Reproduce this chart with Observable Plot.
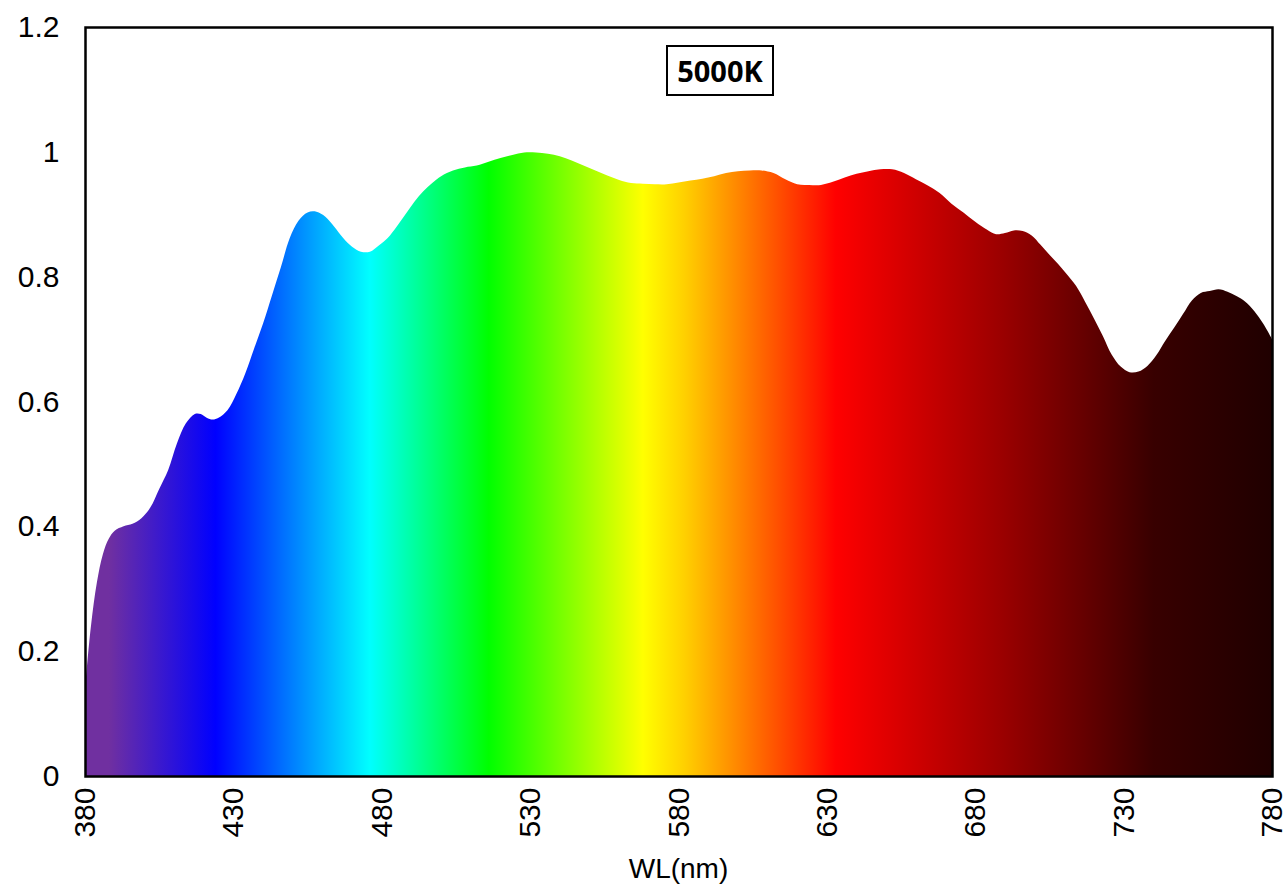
<!DOCTYPE html>
<html>
<head>
<meta charset="utf-8">
<script src="https://cdn.jsdelivr.net/npm/d3@7"></script>
<script src="https://cdn.jsdelivr.net/npm/@observablehq/plot@0.6"></script>
<style>
  body { margin: 0; background: #fff; }
  #wrap { position: relative; width: 1287px; height: 888px; }
  #badge {
    position: absolute; left: 666px; top: 45px; width: 108px; height: 51px;
    box-sizing: border-box; border: 2px solid #000; background: #fff;
    font: bold 29px "Noto Sans", sans-serif; color: #000;
    display: flex; align-items: center; justify-content: center;
  }
</style>
</head>
<body>
<div id="wrap"><div id="badge">5000K</div></div>
<script>
// Wavelength (nm) and relative spectral power
const wavelengths = [380,382,384,386,388,390,393,396,399,402,405,408,411,414,417,419,421,423,425,428,431,434,437,440,443,446,449,452,455,458,461,464,467,470,473,476,479,482,485,488,491,494,497,500,504,508,512,516,520,524,528,532,536,540,544,548,552,556,560,564,568,572,576,580,584,588,592,596,600,604,608,612,616,620,624,628,632,636,640,644,648,652,656,660,664,668,672,676,680,684,687,690,693,696,699,702,705,708,711,714,717,720,723,726,729,732,735,738,741,744,747,750,753,756,759,762,765,768,771,774,777,780];
const intensity = [0.14,0.24,0.31,0.355,0.38,0.393,0.400,0.404,0.413,0.430,0.460,0.490,0.533,0.565,0.580,0.580,0.574,0.571,0.574,0.586,0.612,0.645,0.685,0.725,0.770,0.815,0.862,0.890,0.903,0.904,0.896,0.880,0.862,0.848,0.840,0.840,0.850,0.862,0.880,0.900,0.920,0.937,0.950,0.961,0.970,0.975,0.978,0.984,0.990,0.995,0.999,0.999,0.997,0.993,0.986,0.978,0.970,0.962,0.955,0.950,0.949,0.948,0.948,0.951,0.954,0.957,0.961,0.966,0.969,0.970,0.970,0.966,0.956,0.948,0.947,0.947,0.952,0.959,0.965,0.969,0.972,0.972,0.966,0.956,0.946,0.934,0.917,0.903,0.888,0.875,0.868,0.870,0.874,0.873,0.866,0.851,0.835,0.820,0.803,0.785,0.760,0.733,0.705,0.675,0.656,0.647,0.648,0.657,0.674,0.697,0.718,0.740,0.762,0.774,0.777,0.780,0.776,0.769,0.760,0.745,0.725,0.700];

// Spectrum colour stops
const stopWavelengths = [380, 388, 424, 476, 516, 568, 582, 633, 690, 740, 780];
const stopColors = ["#7030A0", "#7030A0", "#0000FF", "#00FFFF", "#00FF00", "#FFFF00", "#FFD000", "#FF0000", "#990000", "#380000", "#200000"];

const xTicks = [380, 430, 480, 530, 580, 630, 680, 730, 780];
const yTicks = [0, 0.2, 0.4, 0.6, 0.8, 1, 1.2];

const data = wavelengths.map((w, i) => ({wl: w, v: intensity[i]}));

const chart = Plot.plot({
  width: 1287,
  height: 888,
  marginLeft: 85,
  marginRight: 15,
  marginTop: 27,
  marginBottom: 112,
  style: {fontFamily: "'Liberation Sans', sans-serif", fontSize: "30px", color: "#000", background: "#fff"},
  x: {domain: [380, 780], ticks: xTicks, tickSize: 0, tickPadding: 11, tickRotate: -90,
      label: null},
  y: {domain: [0, 1.2], ticks: yTicks, tickSize: 0, tickPadding: 26,
      tickFormat: d => String(+d.toFixed(1)), label: null},
  marks: [
    Plot.areaY(data, {x: "wl", y: "v", fill: "url(#spectrumGrad)", curve: "catmull-rom"}),
    Plot.frame({stroke: "#000", strokeWidth: 2.5})
  ]
});

// gradient across the area's bounding box (data extent 380..780)
const lo = d3.min(wavelengths), hi = d3.max(wavelengths);
const svg = d3.select(chart);
const grad = svg.insert("defs", ":first-child").append("linearGradient")
  .attr("id", "spectrumGrad").attr("x1", "0").attr("x2", "1").attr("y1", "0").attr("y2", "0");
stopWavelengths.forEach((w, i) => {
  grad.append("stop").attr("offset", ((w - lo) / (hi - lo))).attr("stop-color", stopColors[i]);
});

// axis title
svg.append("text").attr("x", 85 + (1287 - 85 - 15) / 2).attr("y", 878)
  .attr("text-anchor", "middle").style("font-size", "28px")
  .style("font-family", "'Liberation Sans', sans-serif").text("WL(nm)");

const wrap = document.getElementById("wrap");
wrap.insertBefore(chart, wrap.firstChild);
chart.style.display = "block";
</script>
</body>
</html>
